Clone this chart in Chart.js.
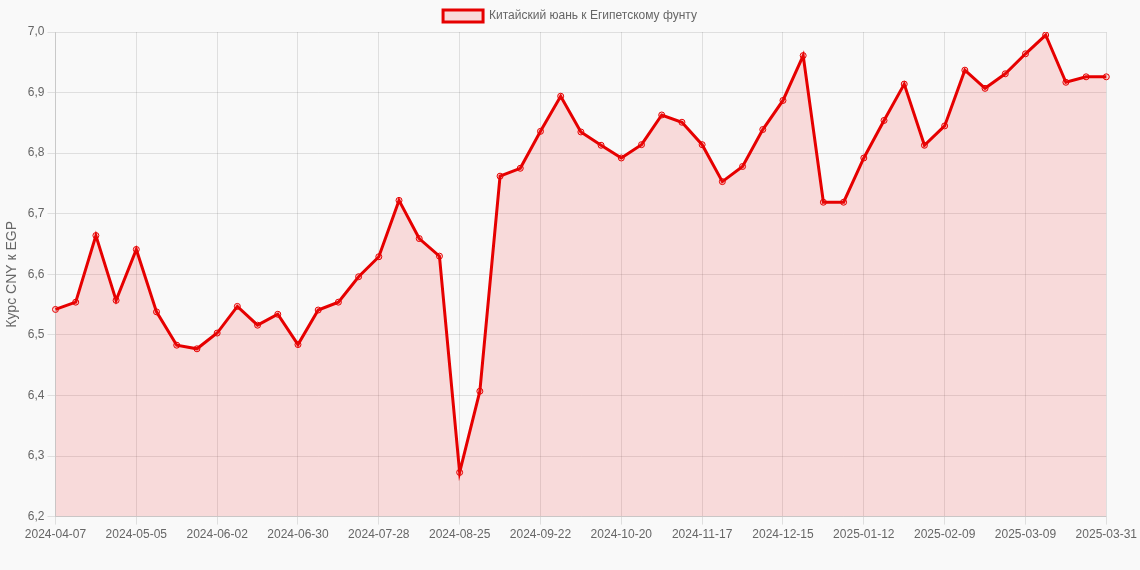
<!DOCTYPE html>
<html>
<head>
<meta charset="utf-8">
<script src="https://cdn.jsdelivr.net/npm/chart.js@4"></script>
<style>
   html, body { margin: 0; padding: 0; background: #f9f9f9; }
   #wrap { width: 1140px; height: 570px; position: relative; }
</style>
</head>
<body>
<div id="wrap"><canvas id="cny-egp"></canvas></div>
<script>
const dates = [
   '2024-04-07', '2024-04-14', '2024-04-21', '2024-04-28', '2024-05-05', '2024-05-12', '2024-05-19', '2024-05-26',
   '2024-06-02', '2024-06-09', '2024-06-16', '2024-06-23', '2024-06-30', '2024-07-07', '2024-07-14', '2024-07-21',
   '2024-07-28', '2024-08-04', '2024-08-11', '2024-08-18', '2024-08-25', '2024-09-01', '2024-09-08', '2024-09-15',
   '2024-09-22', '2024-09-29', '2024-10-06', '2024-10-13', '2024-10-20', '2024-10-27', '2024-11-03', '2024-11-10',
   '2024-11-17', '2024-11-24', '2024-12-01', '2024-12-08', '2024-12-15', '2024-12-22', '2024-12-29', '2025-01-05',
   '2025-01-12', '2025-01-19', '2025-01-26', '2025-02-02', '2025-02-09', '2025-02-16', '2025-02-23', '2025-03-02',
   '2025-03-09', '2025-03-16', '2025-03-23', '2025-03-30', '2025-03-31'
]

const rates = [
   6.542, 6.554, 6.664, 6.557, 6.641, 6.538, 6.483, 6.477,
   6.503, 6.547, 6.516, 6.534, 6.484, 6.541, 6.554, 6.596,
   6.629, 6.722, 6.659, 6.630, 6.273, 6.407, 6.762, 6.775,
   6.836, 6.894, 6.835, 6.813, 6.792, 6.814, 6.863, 6.851,
   6.814, 6.753, 6.778, 6.839, 6.887, 6.961, 6.719, 6.719,
   6.792, 6.854, 6.914, 6.813, 6.845, 6.937, 6.907, 6.931,
   6.964, 6.995, 6.917, 6.926, 6.926
]

const seriesLabel = 'Китайский юань к Египетскому фунту'
const yTitle = 'Курс CNY к EGP'

Chart.defaults.font.family = "'Liberation Sans', Arial, sans-serif"
Chart.defaults.color = '#666'

new Chart(document.getElementById('cny-egp'), {
   type: 'line',
   data: {
      labels: dates,
      datasets: [{
         label: seriesLabel,
         data: rates,
         borderColor: 'rgb(230, 0, 0)',
         backgroundColor: 'rgba(240, 40, 40, 0.15)',
         borderWidth: 3,
         fill: true,
         tension: 0,
         pointRadius: 3,
         pointBorderWidth: 1,
         pointBorderColor: 'rgb(230, 0, 0)',
         pointBackgroundColor: 'rgba(240, 40, 40, 0.15)'
      }]
   },
   options: {
      responsive: true,
      maintainAspectRatio: false,
      animation: false,
      layout: {
         padding: { bottom: 25 }
      },
      scales: {
         x: {
            ticks: {
               maxRotation: 0,
               autoSkip: true,
               maxTicksLimit: 14,
               font: { size: 12 }
            }
         },
         y: {
            min: 6.2,
            max: 7.0,
            ticks: {
               stepSize: 0.1,
               font: { size: 12 },
               callback: value => value.toFixed(1).replace('.', ',')
            },
            title: {
               display: true,
               text: yTitle,
               font: { size: 14 }
            }
         }
      },
      plugins: {
         legend: {
            position: 'top',
            labels: { font: { size: 12 } }
         }
      }
   }
})
</script>
</body>
</html>
